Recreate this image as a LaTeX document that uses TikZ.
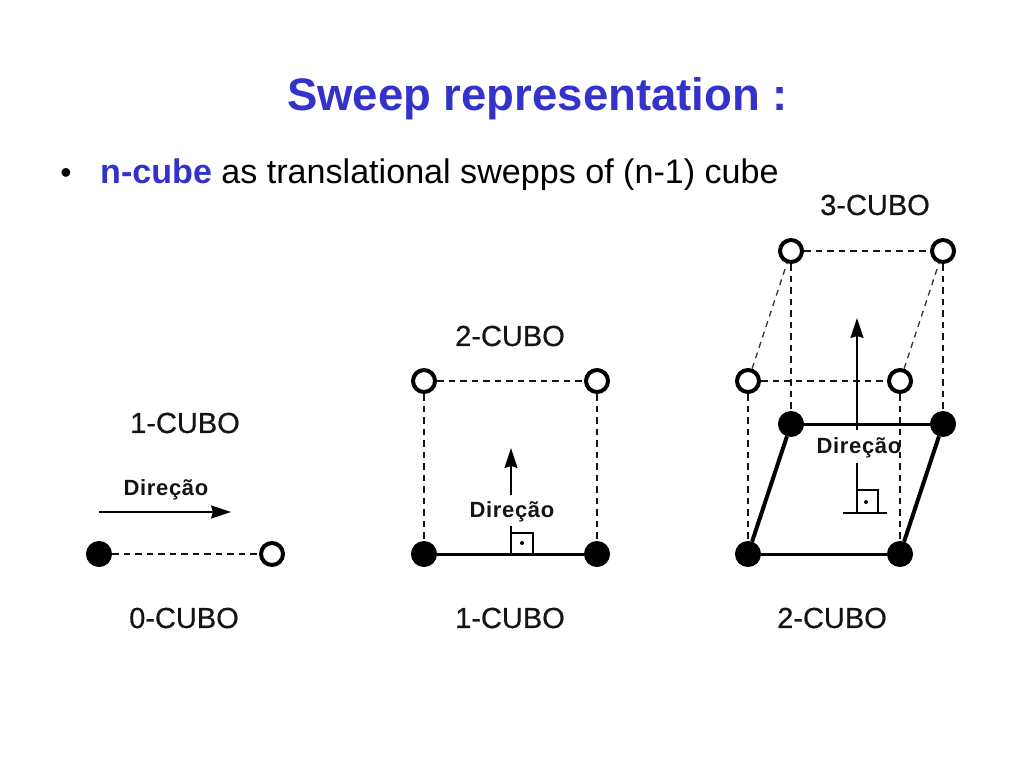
\documentclass[tikz,border=0pt]{standalone}
\usepackage{fontspec}
\setmainfont{Liberation Sans}
\newfontfamily\dirfont[LetterSpace=3]{Liberation Sans}
\newfontfamily\cubofont[FakeBold=0.6]{Liberation Sans}
\usetikzlibrary{arrows.meta}
\definecolor{titleblue}{RGB}{51,51,204}
\definecolor{inkgray}{RGB}{20,20,20}
\tikzset{
  x=1pt,y=-1pt,
  fullpt/.style={circle,draw=black,fill=black,line width=4pt,minimum size=22pt,inner sep=0pt},
  openpt/.style={circle,draw=black,fill=white,line width=4pt,minimum size=22pt,inner sep=0pt},
  dashline/.style={draw=inkgray,line width=1.4pt,dash pattern=on 6.5pt off 5pt},
  slantdash/.style={draw=black!80,line width=1.3pt,dash pattern=on 6pt off 5pt},
  edgeline/.style={draw=black,line width=3pt},
  slantline/.style={draw=black,line width=4pt},
  dirarrow/.style={draw=black,line width=1.6pt,-{Stealth[length=20pt,width=13pt,inset=2pt]}},
  thinline/.style={draw=black,line width=1.5pt},
  cubolabel/.style={font=\cubofont\fontsize{29}{32}\selectfont,text=inkgray,inner sep=0pt},
  dirlabel/.style={font=\dirfont\bfseries\fontsize{22}{26}\selectfont,text=inkgray,inner sep=0pt},
  rightdot/.style={circle,fill=black,minimum size=4pt,inner sep=0pt}
}
\begin{document}
\begin{tikzpicture}
\useasboundingbox (0,0) rectangle (1024,768);
% text
\node[anchor=base,inner sep=0pt,text=titleblue,font=\bfseries\fontsize{45.5}{50}\selectfont] (title) at (537.5,110) {Sweep representation :};
\node[anchor=base,inner sep=0pt,font=\fontsize{32}{36}\selectfont] (bullet) at (66,183) {•};
\node[anchor=base west,inner sep=0pt,font=\fontsize{34.1}{38}\selectfont] (bodyline) at (100,183) {\textcolor{titleblue}{\bfseries n-cube} as translational swepps of (n-1) cube};
% left figure
\node[fullpt] (a1) at (99,554) {};
\node[openpt] (a2) at (272,554) {};
\draw[dashline] (a1) -- (a2);
\node[cubolabel] (la1) at (185,423) {1-CUBO};
\node[cubolabel] (la0) at (184,618) {0-CUBO};
\node[dirlabel] (da) at (166,490) {Direção};
\coordinate (as) at (99,512);
\coordinate (ae) at (231,512);
\draw[dirarrow] (as) -- (ae);
% middle figure
\node[fullpt] (b1) at (424,554) {};
\node[fullpt] (b2) at (597,554) {};
\node[openpt] (b3) at (424,381) {};
\node[openpt] (b4) at (597,381) {};
\draw[edgeline] (b1) -- (b2);
\draw[dashline] (b3) -- (b4);
\draw[dashline] (b3) -- (b1);
\draw[dashline] (b4) -- (b2);
\node[cubolabel] (lb2) at (510,336) {2-CUBO};
\node[cubolabel] (lb1) at (510,618) {1-CUBO};
\node[dirlabel] (db) at (512,512) {Direção};
\coordinate (bs) at (511,495);
\coordinate (be) at (511,448);
\draw[dirarrow] (bs) -- (be);
\coordinate (bp0) at (511,526);
\coordinate (bp1) at (511,554);
\draw[thinline] (bp0) -- (bp1);
\coordinate (bq0) at (511,533);
\coordinate (bq1) at (533,533);
\coordinate (bq2) at (533,554);
\draw[thinline] (bq0) -- (bq1) -- (bq2);
\node[rightdot] (bd) at (522,543) {};
% right figure
\node[fullpt] (c1) at (748,554) {};
\node[fullpt] (c2) at (900,554) {};
\node[fullpt] (c3) at (791,424) {};
\node[fullpt] (c4) at (943,424) {};
\node[openpt] (c5) at (748,381) {};
\node[openpt] (c6) at (900,381) {};
\node[openpt] (c7) at (791,251) {};
\node[openpt] (c8) at (943,251) {};
\draw[edgeline] (c1) -- (c2);
\draw[edgeline] (c3) -- (c4);
\draw[slantline] (c1) -- (c3);
\draw[slantline] (c2) -- (c4);
\draw[dashline] (c5) -- (c6);
\draw[dashline] (c7) -- (c8);
\draw[dashline] (c5) -- (c1);
\draw[dashline] (c6) -- (c2);
\draw[dashline] (c7) -- (c3);
\draw[dashline] (c8) -- (c4);
\draw[slantdash] (c5) -- (c7);
\draw[slantdash] (c6) -- (c8);
\node[cubolabel] (lc3) at (875,205) {3-CUBO};
\node[cubolabel] (lc2) at (832,618) {2-CUBO};
\node[dirlabel] (dc) at (859,448) {Direção};
\coordinate (cs) at (857,430);
\coordinate (ce) at (857,318);
\draw[dirarrow] (cs) -- (ce);
\coordinate (cp0) at (857,463);
\coordinate (cp1) at (857,513);
\draw[thinline] (cp0) -- (cp1);
\coordinate (cb0) at (843,513);
\coordinate (cb1) at (887,513);
\draw[thinline] (cb0) -- (cb1);
\coordinate (cq0) at (857,490);
\coordinate (cq1) at (878,490);
\coordinate (cq2) at (878,513);
\draw[thinline] (cq0) -- (cq1) -- (cq2);
\node[rightdot] (cd) at (866,502) {};
\end{tikzpicture}
\end{document}
